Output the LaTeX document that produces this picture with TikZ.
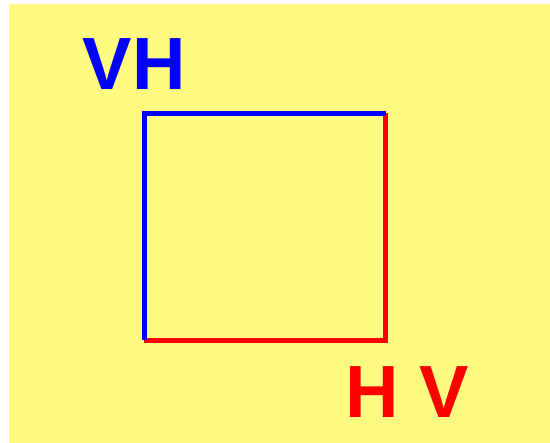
\documentclass[tikz,border=0pt]{standalone}
\usepackage{fontspec}
\setmainfont{Liberation Sans}
\definecolor{padyellow}{RGB}{255,250,128}
\begin{document}
\begin{tikzpicture}[x=1pt, y=-1pt,
    edgeline/.style={line width=5pt},
    cornerlabel/.style={font=\fontsize{74}{74}\selectfont\bfseries, inner sep=0pt, anchor=base west}]
    \useasboundingbox (0,0) rectangle (550,443);
    \fill[padyellow] (9,4) rectangle (550,443);

    \coordinate (tl) at (144,113.5);
    \coordinate (tr) at (385.5,113.5);
    \coordinate (br) at (385.5,340.5);
    \coordinate (bl) at (144,340.5);

    \draw[edgeline, red] (tr) -- (br) -- (bl);
    \draw[edgeline, blue] (bl) -- (tl) -- (tr);

    \node[cornerlabel, text=blue] (vh) at (82.5,90) {VH};
    \node[cornerlabel, text=red] (hv) at (345,418) {H V};
\end{tikzpicture}
\end{document}
